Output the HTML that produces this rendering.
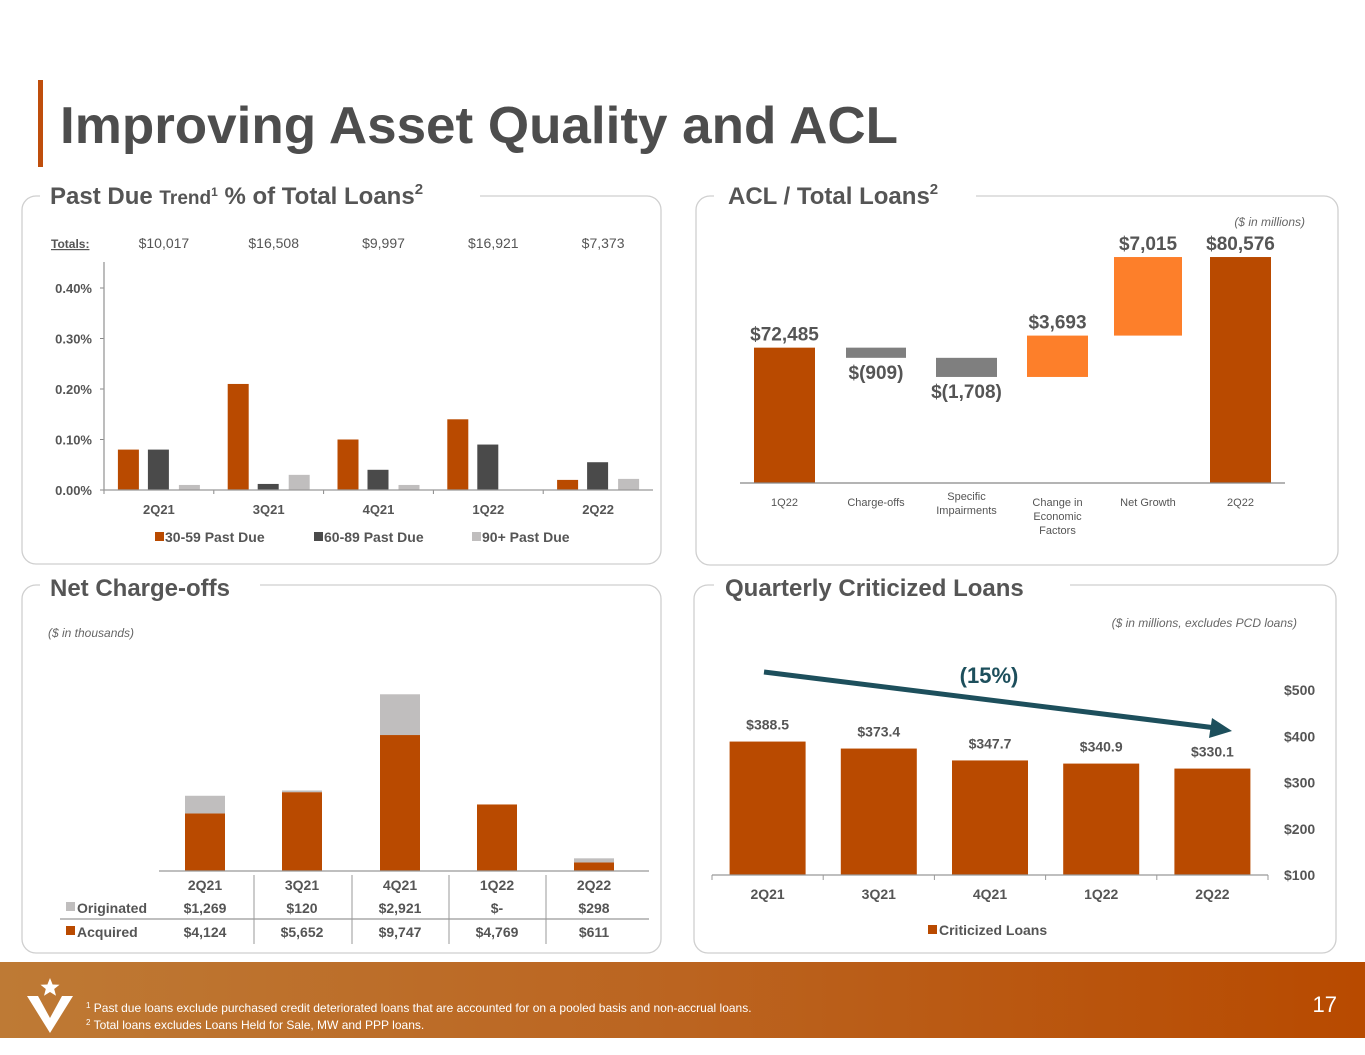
<!DOCTYPE html>
<html><head><meta charset="utf-8"><style>
html,body{margin:0;padding:0;background:#fff;}
svg{display:block;font-family:"Liberation Sans",Arial,sans-serif;}
</style></head><body>
<svg id="s" width="1365" height="1055" viewBox="0 0 1365 1055" xmlns="http://www.w3.org/2000/svg">
<defs>
<linearGradient id="fg" x1="0" x2="1" y1="0" y2="0"><stop offset="0" stop-color="#be7a35"/><stop offset="0.5" stop-color="#bb6420"/><stop offset="1" stop-color="#b84a00"/></linearGradient>
</defs>
<rect x="38" y="80" width="5" height="87" fill="#bf4e0c"/>
<text x="60" y="143" font-size="52" font-weight="bold" fill="#4d4d4d" textLength="838" lengthAdjust="spacingAndGlyphs">Improving Asset Quality and ACL</text>

<!-- panels -->
<rect x="22" y="196" width="639" height="368" rx="14" fill="none" stroke="#cfcfcf" stroke-width="1.3"/>
<rect x="696" y="196" width="642" height="369" rx="14" fill="none" stroke="#cfcfcf" stroke-width="1.3"/>
<rect x="22" y="585" width="639" height="368" rx="14" fill="none" stroke="#cfcfcf" stroke-width="1.3"/>
<rect x="694" y="585" width="642" height="368" rx="14" fill="none" stroke="#cfcfcf" stroke-width="1.3"/>
<rect x="40" y="180" width="440" height="30" fill="#fff"/>
<rect x="714" y="180" width="262" height="30" fill="#fff"/>
<rect x="40" y="570" width="220" height="30" fill="#fff"/>
<rect x="714" y="570" width="356" height="30" fill="#fff"/>
<text x="50" y="204" font-size="24" font-weight="bold" fill="#555">Past Due <tspan font-size="19">Trend</tspan><tspan font-size="12" dy="-8">1</tspan><tspan dy="8"> % of Total Loans</tspan><tspan font-size="15" dy="-10">2</tspan></text>
<text x="728" y="204" font-size="24" font-weight="bold" fill="#555">ACL / Total Loans<tspan font-size="15" dy="-10">2</tspan></text>
<text x="50" y="596" font-size="24" font-weight="bold" fill="#555">Net Charge-offs</text>
<text x="725" y="596" font-size="24" font-weight="bold" fill="#555">Quarterly Criticized Loans</text>

<text x="1305" y="226" font-size="12" font-style="italic" fill="#666" text-anchor="end">($ in millions)</text>
<text x="48" y="637" font-size="12" font-style="italic" fill="#666">($ in thousands)</text>
<text x="1297" y="627" font-size="12" font-style="italic" fill="#666" text-anchor="end">($ in millions, excludes PCD loans)</text>
<text x="51" y="248" font-size="12" font-weight="bold" fill="#555" text-decoration="underline">Totals:</text>

<g id="pd"></g><g id="acl"></g><g id="nco"></g><g id="crit"></g>

<!-- footer -->
<rect x="0" y="962" width="1365" height="76" fill="url(#fg)"/>
<polygon points="50,978 52.6,984.5 59.5,984.8 54.2,989 56,995.7 50,992 44,995.7 45.8,989 40.5,984.8 47.4,984.5" fill="#fff"/>
<polygon points="27,996 38,996 50,1018 62,996 73,996 50,1033" fill="#fff"/>
<text x="86" y="1012" font-size="12" fill="#fff"><tspan font-size="8" dy="-4">1</tspan><tspan dy="4"> Past due loans exclude purchased credit deteriorated loans that are accounted for on a pooled basis and non-accrual loans.</tspan></text>
<text x="86" y="1029" font-size="12" fill="#fff"><tspan font-size="8" dy="-4">2</tspan><tspan dy="4"> Total loans excludes Loans Held for Sale, MW and PPP loans.</tspan></text>
<text x="1337" y="1012" font-size="22" fill="#fff" text-anchor="end">17</text>
</svg>
<script>
// ---- Past due data ----
const pdCats = ["2Q21","3Q21","4Q21","1Q22","2Q22"];
const pdTotals = ["$10,017","$16,508","$9,997","$16,921","$7,373"];
const pd3059 = [0.08,0.21,0.10,0.14,0.02];
const pd6089 = [0.08,0.012,0.04,0.09,0.055];
const pd90 = [0.01,0.03,0.01,0,0.022];
const pdTicks = [0,0.1,0.2,0.3,0.4];
const pdTickLabels = ["0.00%","0.10%","0.20%","0.30%","0.40%"];
// ---- ACL waterfall ----
const aclCats = ["1Q22","Charge-offs","Specific|Impairments","Change in|Economic|Factors","Net Growth","2Q22"];
const aclDeltas = [72485,-909,-1708,3693,7015,80576];
const aclLabels = ["$72,485","$(909)","$(1,708)","$3,693","$7,015","$80,576"];
// ---- Net charge-offs ----
const ncoCats = ["2Q21","3Q21","4Q21","1Q22","2Q22"];
const ncoOriginated = [1269,120,2921,0,298];
const ncoAcquired = [4124,5652,9747,4769,611];
const ncoOrigLabels = ["$1,269","$120","$2,921","$-","$298"];
const ncoAcqLabels = ["$4,124","$5,652","$9,747","$4,769","$611"];
// ---- Criticized loans ----
const critCats = ["2Q21","3Q21","4Q21","1Q22","2Q22"];
const critVals = [388.5,373.4,347.7,340.9,330.1];
const critLabels = ["$388.5","$373.4","$347.7","$340.9","$330.1"];
const critTicks = [100,200,300,400,500];

const NS="http://www.w3.org/2000/svg";
function mk(parent,tag,attrs,txt){const e=document.createElementNS(NS,tag);for(const k in attrs)e.setAttribute(k,attrs[k]);if(txt!==undefined)e.textContent=txt;parent.appendChild(e);return e;}
const OR="#b94a00", DK="#4a4a4a", LT="#c0bebe";

// Past due chart
(function(){
 const g=document.getElementById('pd');
 const x0=104,x1=653,y0=490,y1=288;
 const bw=(x1-x0)/pdCats.length;
 const y=v=>y0-(v/0.4)*(y0-y1);
 const cx=i=>x0+bw*(i+0.5);
 pdTicks.forEach((t,i)=>{
  const l=mk(g,'line',{x1:x0-4,x2:x0,y1:y(t),y2:y(t),stroke:'#888'});
  
  
  const tx=mk(g,'text',{x:x0-12,y:y(t)+5,'font-size':13,'font-weight':'bold',fill:'#555','text-anchor':'end'},pdTickLabels[i]);
  
  
 });
 const series=[[pd3059,OR,-41],[pd6089,DK,-11],[pd90,LT,20]];
 pdCats.forEach((c,i)=>{
  series.forEach(([arr,col,off])=>{
   if(arr[i]<=0)return;
   const r=mk(g,'rect',{x:cx(i)+off,y:y(arr[i]),width:21,height:y0-y(arr[i]),fill:col});
   
   
  });
  const t=mk(g,'text',{x:cx(i),y:514,'font-size':13,'font-weight':'bold',fill:'#555','text-anchor':'middle'},c);
  
  
  const tt=mk(g,'text',{x:cx(i)+5,y:248,'font-size':14,fill:'#555','text-anchor':'middle'},pdTotals[i]);
  
  
  const tk=mk(g,'line',{x1:x0+bw*i,x2:x0+bw*i,y1:y0,y2:y0+4,stroke:'#888'});
  
  
 });
 const ax=mk(g,'line',{x1:x0,x2:x1,y1:y0,y2:y0,stroke:'#999','stroke-width':1.3});
 
 
 const ay=mk(g,'line',{x1:x0,x2:x0,y1:y0,y2:248+14,stroke:'#999','stroke-width':1.3});
 
 
 [["30-59 Past Due",OR,155],["60-89 Past Due",DK,314],["90+ Past Due",LT,472]].forEach(([n,c,x])=>{
  const r=mk(g,'rect',{x:x,y:532,width:9,height:9,fill:c});
  
  
  const t=mk(g,'text',{x:x+10,y:542,'font-size':14,'font-weight':'bold',fill:'#555'},n);
  
  
 });
})();

// ACL waterfall
(function(){
 const g=document.getElementById('acl');
 const base=483, vmin=60400, k=0.0112;
 const y=v=>base-(v-vmin)*k;
 const xs=[754,846,936,1027,1114,1210], ws=[61,60,61,61,68,61];
 let run=0;
 aclDeltas.forEach((d,i)=>{
  let top,bot,col,ly,lyBelow=false;
  if(i===0||i===aclDeltas.length-1){run=d;top=y(d);bot=base;col=OR;}
  else{const a=run,b=run+d;run=b;top=y(Math.max(a,b));bot=y(Math.min(a,b));col=d<0?'#7f7f7f':'#fd7f2a';lyBelow=d<0;}
  const r=mk(g,'rect',{x:xs[i],y:top,width:ws[i],height:Math.max(bot-top,6),fill:col});
  
  
  const t=mk(g,'text',{x:xs[i]+ws[i]/2,y:lyBelow?Math.max(bot,top+6)+21:top-7,'font-size':19,'font-weight':'bold',fill:'#555','text-anchor':'middle'},aclLabels[i]);
  
  
  aclCats[i].split('|').forEach((ln,j)=>{
   const c=mk(g,'text',{x:xs[i]+ws[i]/2,y:506+j*14-(aclCats[i].split('|').length===2?6:(aclCats[i].split('|').length===3?0:0)),'font-size':11,fill:'#555','text-anchor':'middle'},ln);
   
   
  });
 });
 const ax=mk(g,'line',{x1:740,x2:1285,y1:base,y2:base,stroke:'#888','stroke-width':1.3});
 
 
})();

// Net charge-offs
(function(){
 const g=document.getElementById('nco');
 const base=871,k=0.01395;
 const xs=[185,282,380,477,574],w=40;
 ncoCats.forEach((c,i)=>{
  const ha=ncoAcquired[i]*k, ho=ncoOriginated[i]*k;
  const a=mk(g,'rect',{x:xs[i],y:base-ha,width:w,height:ha,fill:OR});
  
  
  if(ho>0){const o=mk(g,'rect',{x:xs[i],y:base-ha-ho,width:w,height:ho,fill:LT});
  
  }
  const cx=xs[i]+w/2;
  const t1=mk(g,'text',{x:cx,y:890,'font-size':14,'font-weight':'bold',fill:'#555','text-anchor':'middle'},c);
  
  
  const t2=mk(g,'text',{x:cx,y:913,'font-size':14,'font-weight':'bold',fill:'#555','text-anchor':'middle'},ncoOrigLabels[i]);
  
  
  const t3=mk(g,'text',{x:cx,y:937,'font-size':14,'font-weight':'bold',fill:'#555','text-anchor':'middle'},ncoAcqLabels[i]);
  
  
  if(i>0){const v=mk(g,'line',{x1:xs[i]-28,x2:xs[i]-28,y1:875,y2:944,stroke:'#999'});
  
  }
 });
 const ax=mk(g,'line',{x1:159,x2:649,y1:base,y2:base,stroke:'#999','stroke-width':1.3});
 
 
 const hl=mk(g,'line',{x1:60,x2:649,y1:919,y2:919,stroke:'#999','stroke-width':1.2});
 
 
 const s1=mk(g,'rect',{x:66,y:902,width:9,height:9,fill:LT});
 
 
 const l1=mk(g,'text',{x:77,y:913,'font-size':14,'font-weight':'bold',fill:'#555'},'Originated');
 
 
 const s2=mk(g,'rect',{x:66,y:926,width:9,height:9,fill:OR});
 
 
 const l2=mk(g,'text',{x:77,y:937,'font-size':14,'font-weight':'bold',fill:'#555'},'Acquired');
 
 
})();

// Criticized loans
(function(){
 const g=document.getElementById('crit');
 const x0=712,x1=1268,y0=875,y1=690;
 const y=v=>y0-(v-100)/400*(y0-y1);
 const bw=(x1-x0)/critCats.length;
 critTicks.forEach(t=>{
  const tx=mk(g,'text',{x:1284,y:y(t)+5,'font-size':14,'font-weight':'bold',fill:'#555'},'$'+t);
  
  
 });
 critCats.forEach((c,i)=>{
  const cx=x0+bw*(i+0.5);
  const r=mk(g,'rect',{x:cx-38,y:y(critVals[i]),width:76,height:y0-y(critVals[i]),fill:OR});
  
  
  const t=mk(g,'text',{x:cx,y:y(critVals[i])-12,'font-size':14,'font-weight':'bold',fill:'#555','text-anchor':'middle'},critLabels[i]);
  
  
  const xl=mk(g,'text',{x:cx,y:899,'font-size':14,'font-weight':'bold',fill:'#555','text-anchor':'middle'},c);
  
  
 });
 for(let i=0;i<=critCats.length;i++){const tk=mk(g,'line',{x1:x0+bw*i,x2:x0+bw*i,y1:y0,y2:y0+5,stroke:'#999'});
  
  }
 const ax=mk(g,'line',{x1:x0,x2:x1,y1:y0,y2:y0,stroke:'#999','stroke-width':1.3});
 
 
 const ar=mk(g,'line',{x1:764,y1:672,x2:1216,y2:728,stroke:'#1d4f5c','stroke-width':5});
 
 
 const ah=mk(g,'polygon',{points:'1232,731 1212,718 1209,738',fill:'#1d4f5c'});
 
 
 const pc=mk(g,'text',{x:989,y:683,'font-size':22,'font-weight':'bold',fill:'#1d4f5c','text-anchor':'middle'},'(15%)');
 
 
 const sw=mk(g,'rect',{x:928,y:925,width:9,height:9,fill:OR});
 
 
 const lg=mk(g,'text',{x:939,y:935,'font-size':14,'font-weight':'bold',fill:'#555'},'Criticized Loans');
 
 
})();
</script>
</body></html>
